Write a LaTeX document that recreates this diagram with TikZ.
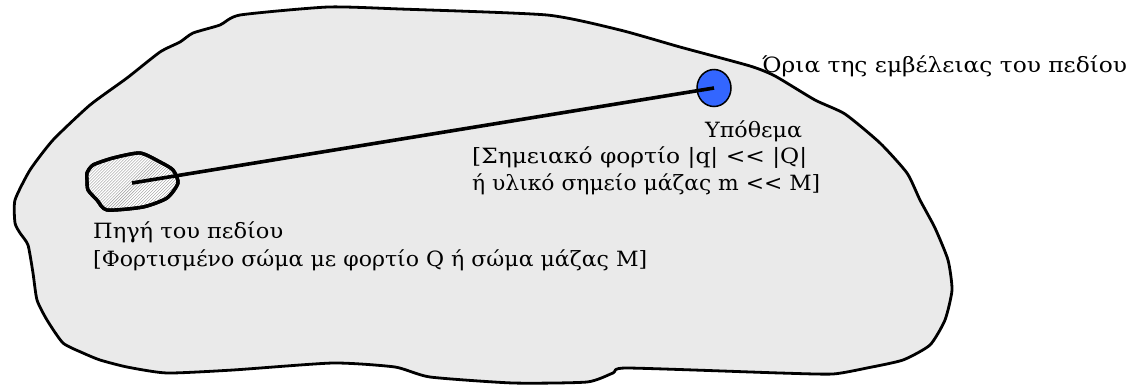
\documentclass[tikz,border=0pt]{standalone}
\usepackage{graphicx}
\usepackage{fontspec}
\setmainfont{DejaVu Serif}
\usetikzlibrary{patterns,shapes.geometric}
\definecolor{fieldbg}{RGB}{234,234,234}
\definecolor{dotblue}{RGB}{51,102,255}
\definecolor{hatchgray}{RGB}{150,150,150}
\newcommand\fitw[2]{\resizebox{#1}{\height}{#2}}
\newcommand\dblless{<\kern0pt<}
\tikzset{
  lbl/.style={anchor=base west, inner sep=0pt, font=\fontsize{21bp}{25bp}\selectfont, text=black},
  outline/.style={draw=black, line width=2.8bp, line join=round, fill=fieldbg},
  srcblob/.style={draw=black, line width=3.4bp, line join=round, fill=white},
  fieldline/.style={draw=black, line width=3.6bp},
}
\begin{document}
\begin{tikzpicture}[x=1bp,y=-1bp]
\useasboundingbox (0,0) rectangle (1138,385);
% field boundary
\draw[outline] plot[smooth cycle, tension=0.35] coordinates {
 (328,7) (400,9) (547,15) (620,30) (680,47) (750,66) (775,76) (815,100) (845,114)
 (880,143) (907,173) (920,200) (935,228) (948,260) (952,290) (945,320) (930,345)
 (903,360) (867,368) (833,374) (780,373) (627,368) (613,373) (587,382) (513,383)
 (430,377) (395,367) (333,363) (233,370) (167,373) (127,367) (100,360) (83,353)
 (63,343) (47,320) (37,300) (33,273) (28,245) (20,233) (15,223) (15,200) (30,170)
 (53,140) (90,105) (127,78) (160,52) (180,42) (193,33) (220,25) (240,15)};
% source
\path[srcblob] plot[smooth cycle, tension=0.4] coordinates {
 (87,173) (93,165) (113,158) (140,153) (160,162) (173,170) (178,183) (167,198)
 (143,207) (107,210) (97,200) (88,190) (87,180)};
\fill[pattern=north east lines, pattern color=hatchgray] plot[smooth cycle, tension=0.4] coordinates {
 (87,173) (93,165) (113,158) (140,153) (160,162) (173,170) (178,183) (167,198)
 (143,207) (107,210) (97,200) (88,190) (87,180)};
\draw[srcblob, fill=none] plot[smooth cycle, tension=0.4] coordinates {
 (87,173) (93,165) (113,158) (140,153) (160,162) (173,170) (178,183) (167,198)
 (143,207) (107,210) (97,200) (88,190) (87,180)};
\coordinate (src) at (132,183);
% test body
\node[ellipse, draw=black, line width=1.5bp, fill=dotblue, minimum width=34bp, minimum height=37bp, inner sep=0pt] (dot) at (714,88) {};
\draw[fieldline] (src) -- (dot.center);
% labels
\node[lbl] (range) at (762,72) {\fitw{365bp}{Όρια της εμβέλειας του πεδίου}};
\node[lbl] (test1) at (705,137) {\fitw{97bp}{Υπόθεμα}};
\node[lbl] (test2) at (472,163) {\fitw{335bp}{[Σημειακό φορτίο |q| \dblless{} |Q|}};
\node[lbl] (test3) at (472,190) {\fitw{348bp}{ή υλικό σημείο μάζας m \dblless{} M]}};
\node[lbl] (src1) at (93,238) {\fitw{190bp}{Πηγή του πεδίου}};
\node[lbl] (src2) at (93,266) {\fitw{554bp}{[Φορτισμένο σώμα με φορτίο Q ή σώμα μάζας M]}};
\end{tikzpicture}
\end{document}
